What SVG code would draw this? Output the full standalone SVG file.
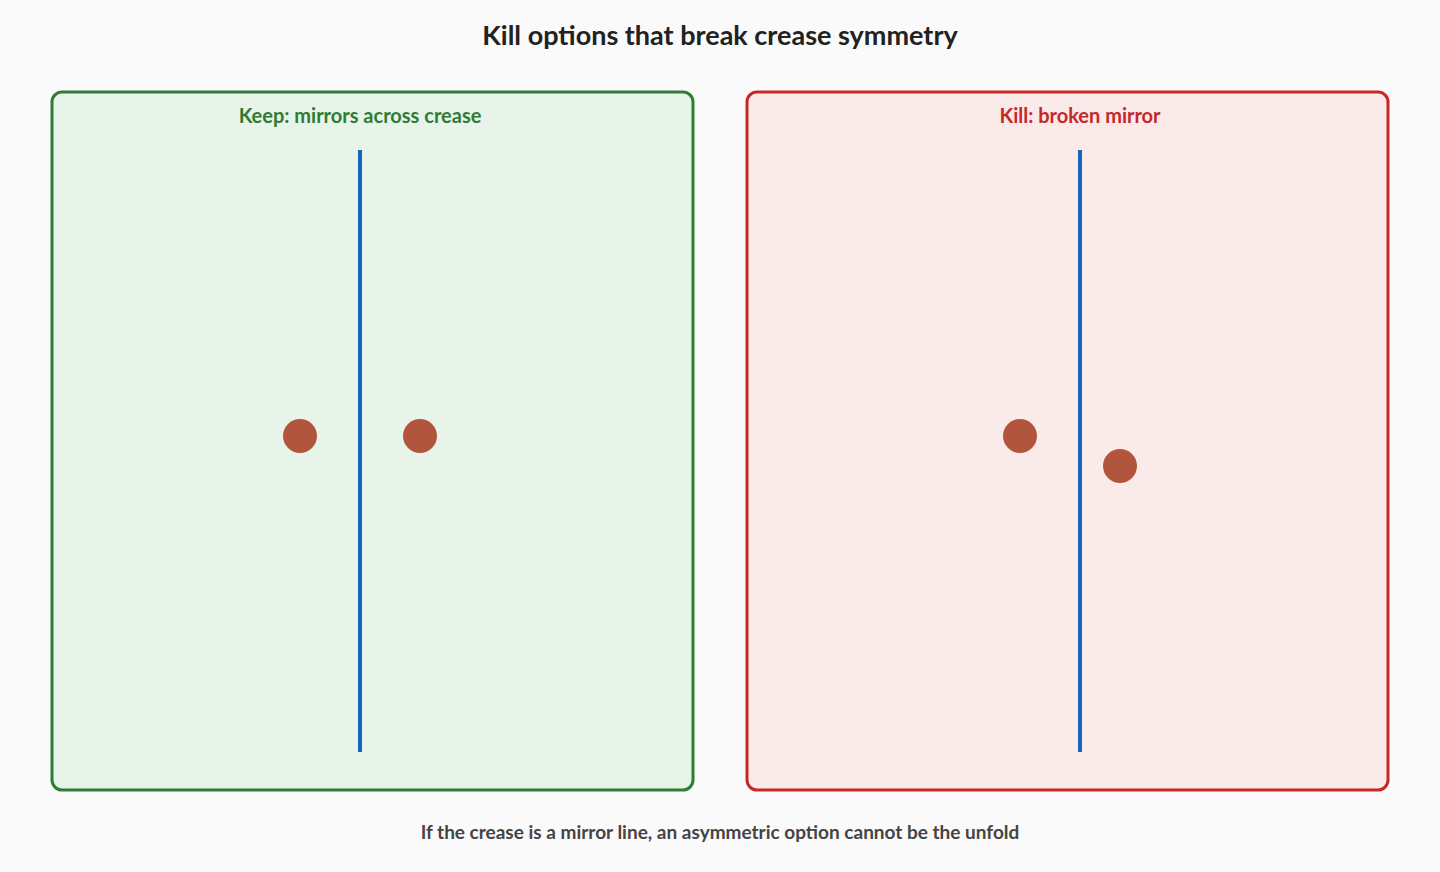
<svg xmlns="http://www.w3.org/2000/svg" width="1440" height="872" viewBox="0 0 1440 872">
<style>
text{font-family:Lato,"Liberation Sans",sans-serif;font-weight:bold;text-anchor:middle}
.title{font-size:27px;fill:#222}
.lbl{font-size:20px}
.foot{font-size:19px;fill:#444}
.crease{stroke:#1565c0;stroke-width:4}
.dot{fill:#b1563c}
</style>
<rect width="1440" height="872" fill="#fafafa"/>
<text class="title" x="720" y="45">Kill options that break crease symmetry</text>
<g id="keep">
<rect x="52" y="92" width="641" height="698" rx="10" fill="#e8f3ea" stroke="#2e7d32" stroke-width="3"/>
<text class="lbl" x="360" y="123" fill="#2e7d32">Keep: mirrors across crease</text>
<line class="crease" x1="360" y1="150" x2="360" y2="752"/>
<circle class="dot" cx="300" cy="436" r="17"/>
<circle class="dot" cx="420" cy="436" r="17"/>
</g>
<g id="kill">
<rect x="747" y="92" width="641" height="698" rx="10" fill="#fbeaea" stroke="#c62828" stroke-width="3"/>
<text class="lbl" x="1080" y="123" fill="#c62828">Kill: broken mirror</text>
<line class="crease" x1="1080" y1="150" x2="1080" y2="752"/>
<circle class="dot" cx="1020" cy="436" r="17"/>
<circle class="dot" cx="1120" cy="466" r="17"/>
</g>
<g id="connectors"></g>
<text class="foot" x="720" y="839">If the crease is a mirror line, an asymmetric option cannot be the unfold</text>
</svg>
